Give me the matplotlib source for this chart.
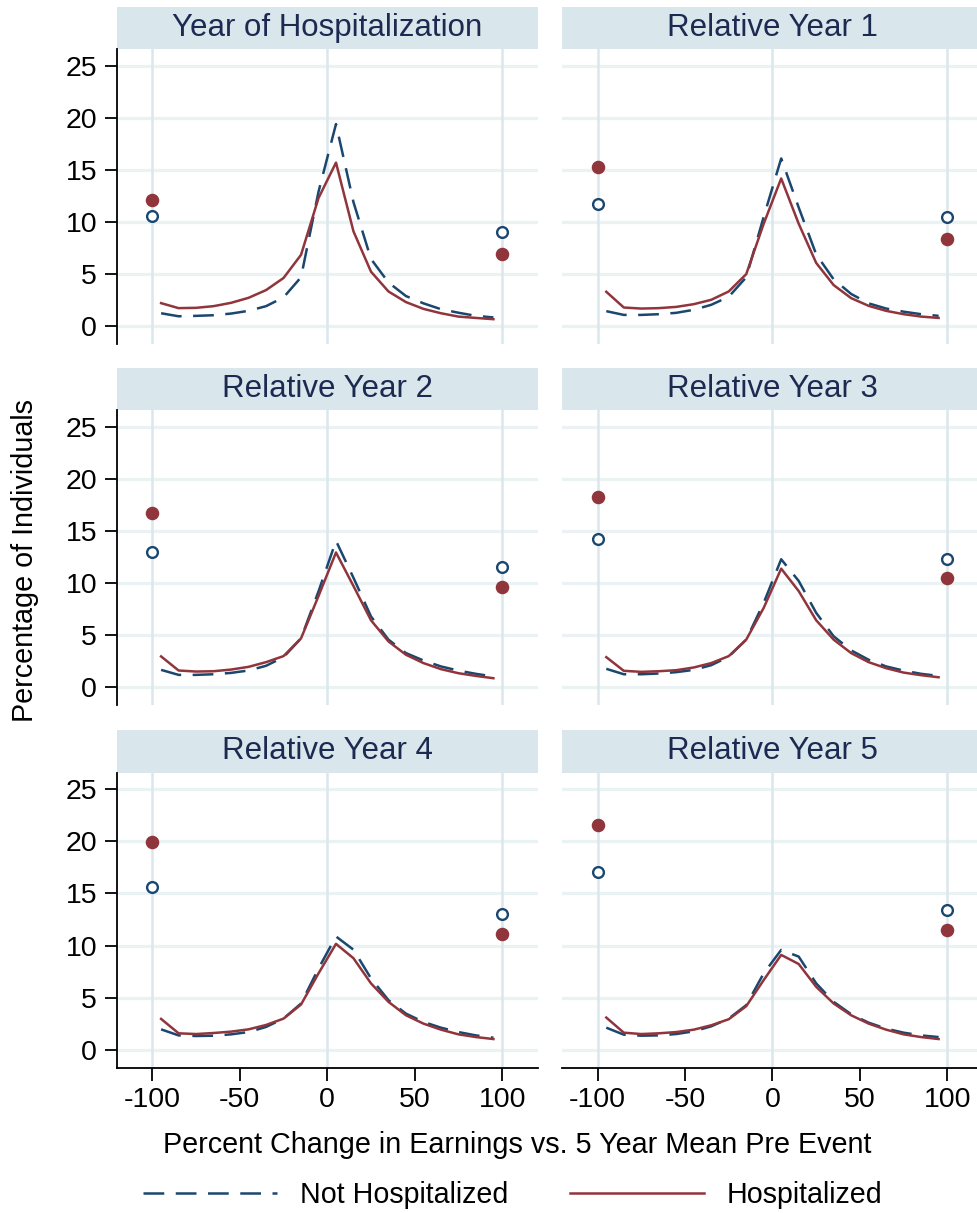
import matplotlib.pyplot as plt
from matplotlib.patches import Rectangle
from matplotlib.lines import Line2D

plt.rcParams['font.family'] = ['Liberation Sans', 'DejaVu Sans']
plt.rcParams['axes.unicode_minus'] = False

# panel titles
titles = ["Year of Hospitalization", "Relative Year 1", "Relative Year 2",
          "Relative Year 3", "Relative Year 4", "Relative Year 5"]

# bin centers of the earnings change distribution
bins = [-95, -85, -75, -65, -55, -45, -35, -25, -15, -5,
        5, 15, 25, 35, 45, 55, 65, 75, 85, 95]
# the two open-ended groups (<= -100 and >= 100)
ends = [-100, 100]

# percentage of individuals, hospitalized (solid red)
hosp_y0 = [2.22, 1.74, 1.77, 1.93, 2.25, 2.73, 3.47, 4.63, 6.85, 12.3,
           15.7, 9.1, 5.24, 3.34, 2.32, 1.67, 1.25, 0.93, 0.8, 0.68]
hosp_y1 = [3.31, 1.8, 1.7, 1.74, 1.86, 2.12, 2.54, 3.34, 5.0, 9.84,
           14.18, 9.84, 6.08, 3.95, 2.7, 1.96, 1.48, 1.16, 0.93, 0.8]
hosp_y2 = [2.96, 1.61, 1.51, 1.54, 1.7, 1.96, 2.41, 2.99, 4.69, 8.75,
           12.93, 9.71, 6.43, 4.4, 3.12, 2.32, 1.74, 1.35, 1.09, 0.87]
hosp_y3 = [2.89, 1.58, 1.48, 1.54, 1.64, 1.9, 2.32, 2.99, 4.57, 7.62,
           11.38, 9.23, 6.43, 4.57, 3.28, 2.41, 1.83, 1.41, 1.16, 0.96]
hosp_y4 = [2.96, 1.58, 1.51, 1.61, 1.74, 1.96, 2.38, 2.99, 4.34, 7.33,
           10.16, 8.78, 6.37, 4.6, 3.31, 2.51, 1.93, 1.48, 1.22, 1.03]
hosp_y5 = [3.09, 1.64, 1.51, 1.58, 1.7, 1.93, 2.35, 2.93, 4.18, 6.69,
           9.1, 8.23, 6.04, 4.44, 3.31, 2.51, 1.93, 1.48, 1.22, 1.03]

# percentage of individuals, not hospitalized (dashed navy)
nothosp_y0 = [1.25, 0.96, 1.0, 1.06, 1.22, 1.48, 1.93, 2.77, 4.7, 12.9,
              19.4, 11.9, 6.46, 4.2, 2.9, 2.2, 1.64, 1.3, 1.0, 0.85]
nothosp_y1 = [1.45, 1.09, 1.09, 1.16, 1.29, 1.58, 2.06, 2.83, 4.7, 10.5,
              16.1, 11.4, 6.9, 4.5, 3.1, 2.2, 1.7, 1.4, 1.16, 1.0]
nothosp_y2 = [1.67, 1.19, 1.19, 1.25, 1.38, 1.61, 2.06, 2.89, 4.69, 9.2,
              14.05, 10.5, 6.8, 4.57, 3.28, 2.57, 2.0, 1.6, 1.29, 1.03]
nothosp_y3 = [1.77, 1.25, 1.25, 1.32, 1.45, 1.67, 2.12, 2.93, 4.57, 8.1,
              12.28, 10.2, 7.14, 4.89, 3.54, 2.64, 2.0, 1.6, 1.29, 1.09]
nothosp_y4 = [1.96, 1.38, 1.32, 1.35, 1.48, 1.7, 2.19, 2.99, 4.44, 7.8,
              10.87, 9.6, 6.85, 4.76, 3.47, 2.67, 2.12, 1.7, 1.38, 1.16]
nothosp_y5 = [2.12, 1.45, 1.35, 1.38, 1.51, 1.77, 2.25, 2.99, 4.28, 7.33,
              9.58, 8.94, 6.37, 4.6, 3.41, 2.6, 2.03, 1.64, 1.38, 1.22]

# open-ended groups at -100 and 100
hosp_ends = [[12.12, 6.91], [15.27, 8.42], [16.75, 9.65],
             [18.3, 10.48], [19.94, 11.1], [21.55, 11.45]]
nothosp_ends = [[10.55, 9.07], [11.77, 10.45], [12.93, 11.5],
                [14.2, 12.35], [15.6, 13.02], [17.05, 13.44]]

hosp = [hosp_y0, hosp_y1, hosp_y2, hosp_y3, hosp_y4, hosp_y5]
nothosp = [nothosp_y0, nothosp_y1, nothosp_y2, nothosp_y3, nothosp_y4, nothosp_y5]

xticks = [-100, -50, 0, 50, 100]
yticks = [0, 5, 10, 15, 20, 25]

navy = "#1a476f"
maroon = "#90353b"
strip_col = "#d9e6eb"
grid_col = "#eaf2f3"
vline_col = "#dae7ed"
title_col = "#1c2a52"

W, H = 977, 1213
fig = plt.figure(figsize=(W / 100, H / 100), dpi=100)

# panel geometry in pixels
col_left = [116.5, 561.7]
row_top = [49, 410, 772.5]
pw, ph = 421.5, 295
strip_h = 42.5
dash = (0, (8.3, 4.6))
lw = 1.8

for i in range(6):
    r, c = divmod(i, 2)
    left = col_left[c] / W
    bottom = 1 - (row_top[r] + ph) / H
    ax = fig.add_axes([left, bottom, pw / W, ph / H])
    ax.set_xlim(-120.5, 120.5)
    ax.set_ylim(-1.7, 26.6)

    # grid
    for yv in yticks:
        ax.axhline(yv, color=grid_col, lw=2.3, zorder=0)
    for xv in [-100, 0, 100]:
        ax.axvline(xv, color=vline_col, lw=1.8, zorder=0)

    ax.plot(bins, nothosp[i], color=navy, lw=lw, linestyle=dash, zorder=3)
    ax.plot(bins, hosp[i], color=maroon, lw=lw, zorder=4)
    ax.scatter(ends, nothosp_ends[i], s=60, facecolors="white",
               edgecolors=navy, linewidths=1.7, zorder=5)
    ax.scatter(ends, hosp_ends[i], s=95, color=maroon, linewidths=0, zorder=5)

    for sp in ax.spines.values():
        sp.set_visible(False)

    ax.set_xticks(xticks)
    ax.set_yticks(yticks)
    ax.tick_params(labelsize=20.5, length=9, width=1.3, color="black", pad=5)
    if c == 0:
        ax.spines['left'].set_visible(True)
        ax.spines['left'].set_linewidth(1.3)
    else:
        ax.tick_params(axis='y', left=False, labelleft=False)
    if r == 2:
        ax.spines['bottom'].set_visible(True)
        ax.spines['bottom'].set_linewidth(1.3)
    else:
        ax.tick_params(axis='x', bottom=False, labelbottom=False)

    # strip heading
    sh = strip_h / ph
    ax.add_patch(Rectangle((0, 1), 1, sh, transform=ax.transAxes,
                           facecolor=strip_col, edgecolor="none", clip_on=False))
    ax.text(0.5, 1 + sh / 2, titles[i], transform=ax.transAxes, ha="center",
            va="center", fontsize=22.5, color=title_col)

fig.text(517 / W, 1 - 1145 / H, "Percent Change in Earnings vs. 5 Year Mean Pre Event",
         ha="center", va="center", fontsize=20.7)
fig.text(25 / W, 1 - 561 / H, "Percentage of Individuals", rotation=90,
         ha="center", va="center", fontsize=20.7)

handles = [Line2D([], [], color=navy, lw=lw, linestyle=dash),
           Line2D([], [], color=maroon, lw=lw)]
fig.legend(handles, ["Not Hospitalized", "Hospitalized"], loc="center",
           bbox_to_anchor=(512.5 / W, 1 - 1195 / H), ncol=2, frameon=False,
           fontsize=20.6, handlelength=4.7, handletextpad=0.77, columnspacing=2.17,
           borderpad=0, borderaxespad=0)

fig.savefig("out.png", dpi=100)
